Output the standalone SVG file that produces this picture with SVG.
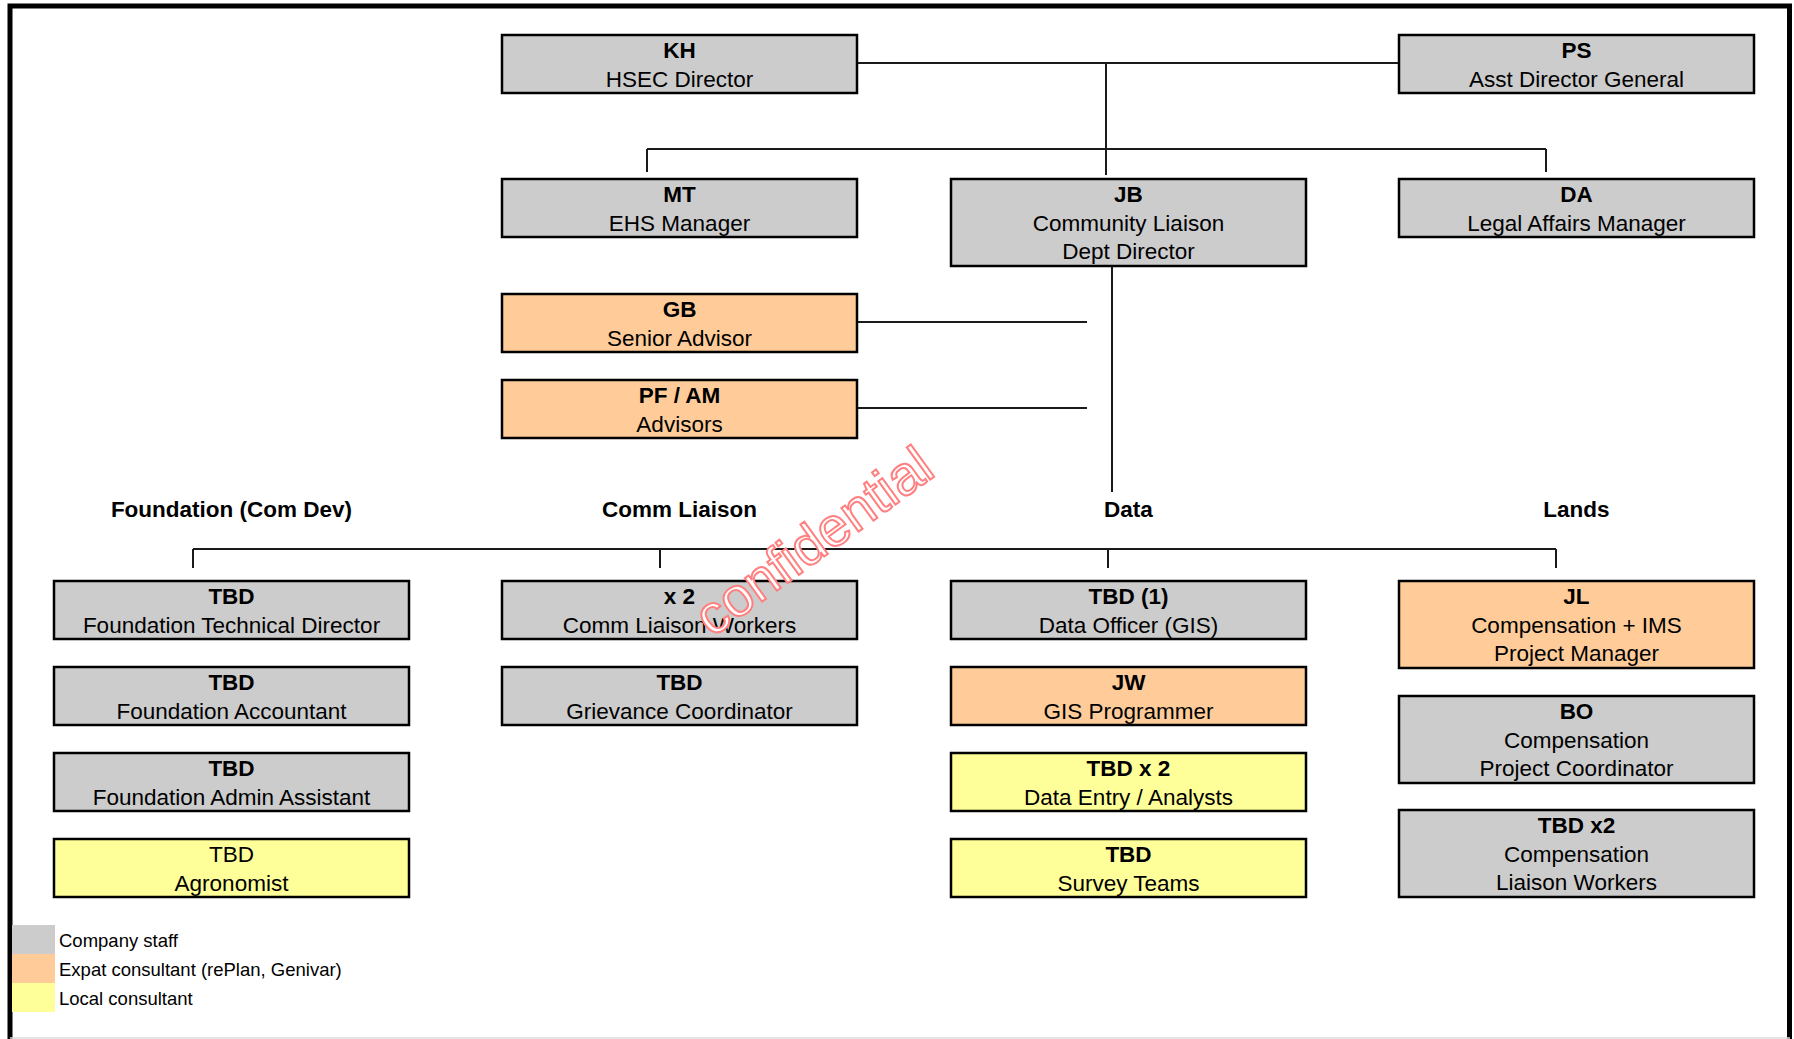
<svg xmlns="http://www.w3.org/2000/svg" width="1794" height="1039" viewBox="0 0 1794 1039">
<style>
text{font-family:"Liberation Sans",Arial,sans-serif;fill:#000}
.n rect{stroke:#000;stroke-width:2.5}
.g{fill:#cccccc}.o{fill:#ffcc99}.y{fill:#ffff99}
.t{font-size:22.5px;text-anchor:middle}
.b{font-weight:bold}
.h{font-size:22.5px;font-weight:bold;text-anchor:middle}
.c{stroke:#1a1a1a;stroke-width:2;fill:none}
.lg{font-size:18.5px}
</style>
<rect width="1794" height="1039" fill="#fff"/>
<path d="M10,1039 V6 H1789.5 V1039" fill="none" stroke="#000" stroke-width="5"/>
<line x1="10" y1="1038" x2="1790" y2="1038" stroke="#ddd" stroke-width="1.5"/>

<g id="connectors" class="c">
<path d="M857,63 H1399"/>
<path d="M1106,63 V175"/>
<path d="M647,149 H1546"/>
<path d="M647,149 V172"/>
<path d="M1546,149 V172"/>
<path d="M1112,266 V492"/>
<path d="M857,322 H1087"/>
<path d="M857,408 H1087"/>
<path d="M193,549 H1556"/>
<path d="M193,549 V568"/>
<path d="M660,549 V568"/>
<path d="M1108,549 V568"/>
<path d="M1556,549 V568"/>
</g>

<g id="KH" class="n"><rect class="g" x="502" y="35" width="355" height="58"/><text class="t b" x="679.5" y="58">KH</text><text class="t" x="679.5" y="86.5">HSEC Director</text></g>
<g id="PS" class="n"><rect class="g" x="1399" y="35" width="355" height="58"/><text class="t b" x="1576.5" y="58">PS</text><text class="t" x="1576.5" y="86.5">Asst Director General</text></g>
<g id="MT" class="n"><rect class="g" x="502" y="179" width="355" height="58"/><text class="t b" x="679.5" y="202">MT</text><text class="t" x="679.5" y="230.5">EHS Manager</text></g>
<g id="JB" class="n"><rect class="g" x="951" y="179" width="355" height="87"/><text class="t b" x="1128.5" y="201.5">JB</text><text class="t" x="1128.5" y="230.5">Community Liaison</text><text class="t" x="1128.5" y="259">Dept Director</text></g>
<g id="DA" class="n"><rect class="g" x="1399" y="179" width="355" height="58"/><text class="t b" x="1576.5" y="202">DA</text><text class="t" x="1576.5" y="230.5">Legal Affairs Manager</text></g>
<g id="GB" class="n"><rect class="o" x="502" y="294" width="355" height="58"/><text class="t b" x="679.5" y="317">GB</text><text class="t" x="679.5" y="345.5">Senior Advisor</text></g>
<g id="PFAM" class="n"><rect class="o" x="502" y="380" width="355" height="58"/><text class="t b" x="679.5" y="403">PF / AM</text><text class="t" x="679.5" y="431.5">Advisors</text></g>

<g id="headers">
<text class="h" x="231.5" y="517">Foundation (Com Dev)</text>
<text class="h" x="679.5" y="517">Comm Liaison</text>
<text class="h" x="1128.5" y="517">Data</text>
<text class="h" x="1576.5" y="517">Lands</text>
</g>

<g id="FTD" class="n"><rect class="g" x="54" y="581" width="355" height="58"/><text class="t b" x="231.5" y="604">TBD</text><text class="t" x="231.5" y="632.5">Foundation Technical Director</text></g>
<g id="FA" class="n"><rect class="g" x="54" y="667" width="355" height="58"/><text class="t b" x="231.5" y="690">TBD</text><text class="t" x="231.5" y="718.5">Foundation Accountant</text></g>
<g id="FAA" class="n"><rect class="g" x="54" y="753" width="355" height="58"/><text class="t b" x="231.5" y="776">TBD</text><text class="t" x="231.5" y="804.5">Foundation Admin Assistant</text></g>
<g id="AG" class="n"><rect class="y" x="54" y="839" width="355" height="58"/><text class="t" x="231.5" y="862">TBD</text><text class="t" x="231.5" y="890.5">Agronomist</text></g>

<g id="CLW" class="n"><rect class="g" x="502" y="581" width="355" height="58"/><text class="t b" x="679.5" y="604">x 2</text><text class="t" x="679.5" y="632.5">Comm Liaison Workers</text></g>
<g id="GC" class="n"><rect class="g" x="502" y="667" width="355" height="58"/><text class="t b" x="679.5" y="690">TBD</text><text class="t" x="679.5" y="718.5">Grievance Coordinator</text></g>

<g id="DO" class="n"><rect class="g" x="951" y="581" width="355" height="58"/><text class="t b" x="1128.5" y="604">TBD (1)</text><text class="t" x="1128.5" y="632.5">Data Officer (GIS)</text></g>
<g id="JW" class="n"><rect class="o" x="951" y="667" width="355" height="58"/><text class="t b" x="1128.5" y="690">JW</text><text class="t" x="1128.5" y="718.5">GIS Programmer</text></g>
<g id="DE" class="n"><rect class="y" x="951" y="753" width="355" height="58"/><text class="t b" x="1128.5" y="776">TBD x 2</text><text class="t" x="1128.5" y="804.5">Data Entry / Analysts</text></g>
<g id="ST" class="n"><rect class="y" x="951" y="839" width="355" height="58"/><text class="t b" x="1128.5" y="862">TBD</text><text class="t" x="1128.5" y="890.5">Survey Teams</text></g>

<g id="JL" class="n"><rect class="o" x="1399" y="581" width="355" height="87"/><text class="t b" x="1576.5" y="603.5">JL</text><text class="t" x="1576.5" y="632.5">Compensation + IMS</text><text class="t" x="1576.5" y="661">Project Manager</text></g>
<g id="BO" class="n"><rect class="g" x="1399" y="696" width="355" height="87"/><text class="t b" x="1576.5" y="718.5">BO</text><text class="t" x="1576.5" y="747.5">Compensation</text><text class="t" x="1576.5" y="776">Project Coordinator</text></g>
<g id="CLW2" class="n"><rect class="g" x="1399" y="810" width="355" height="87"/><text class="t b" x="1576.5" y="832.5">TBD x2</text><text class="t" x="1576.5" y="861.5">Compensation</text><text class="t" x="1576.5" y="890">Liaison Workers</text></g>

<g id="legend">
<rect class="g" x="12" y="925" width="43" height="29"/>
<rect class="o" x="12" y="954" width="43" height="29"/>
<rect class="y" x="12" y="983" width="43" height="29"/>
<text class="lg" x="59" y="947">Company staff</text>
<text class="lg" x="59" y="976">Expat consultant (rePlan, Genivar)</text>
<text class="lg" x="59" y="1005">Local consultant</text>
</g>

<text x="712" y="638" transform="rotate(-36 712 638)" style="font-size:55px;fill:#fff;stroke:#ff8080;stroke-width:2">confidential</text>
</svg>
